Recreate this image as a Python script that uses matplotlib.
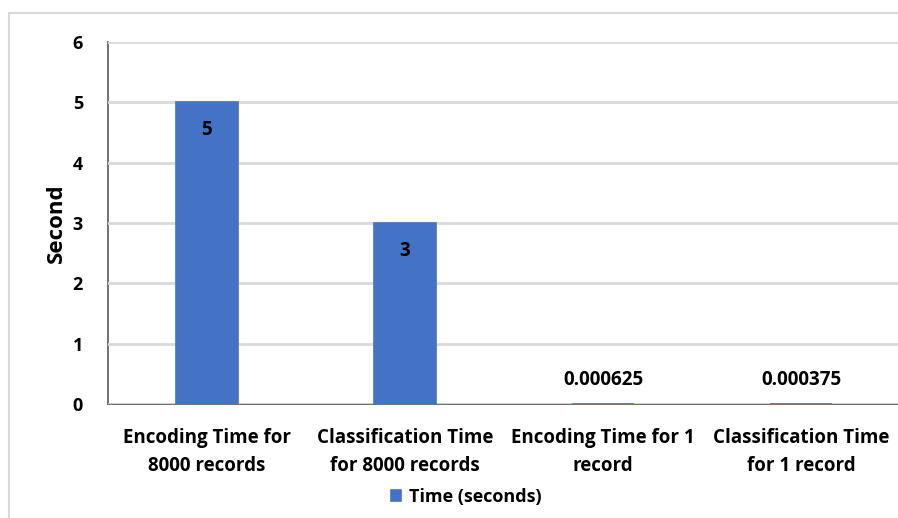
import numpy as np
import matplotlib.pyplot as plt
from matplotlib.lines import Line2D

categories = ["Encoding Time for\n8000 records", "Classification Time\nfor 8000 records",
              "Encoding Time for 1\nrecord", "Classification Time\nfor 1 record"]
times = [5, 3, 0.000625, 0.000375]
value_labels = ["5", "3", "0.000625", "0.000375"]
series_name = "Time (seconds)"

plt.rcParams['font.family'] = ['Open Sans', 'DejaVu Sans']
plt.rcParams['font.weight'] = 'bold'

W, H = 898, 518
fig = plt.figure(figsize=(W / 100, H / 100), dpi=100)
ax = fig.add_axes([108 / W, (H - 404) / H, (900 - 108) / W, (404 - 42) / H])

x = np.arange(len(categories))
bars = ax.bar(x, times, width=0.31, color='#4472c4', edgecolor='#4472c4', linewidth=1.2,
              zorder=3, label=series_name)

ax.set_xlim(-0.5, len(categories) - 0.5)
ax.set_ylim(0, 6)
ax.set_yticks(range(0, 7))
ax.yaxis.grid(True, color='#d9d9d9', linewidth=2, zorder=0)
ax.set_xticks(x)
ax.set_xticklabels(categories, fontsize=13.5, fontweight='bold', linespacing=1.55)
ax.tick_params(axis='x', length=0, pad=17)
ax.tick_params(axis='y', length=0, pad=18, labelsize=13)
for lab in ax.get_yticklabels():
    lab.set_fontweight('bold')

for s in ['top', 'right']:
    ax.spines[s].set_visible(False)
ax.spines['left'].set_color('#595959')
ax.spines['bottom'].set_color('#595959')
ax.spines['left'].set_linewidth(1.2)
ax.spines['bottom'].set_linewidth(1.2)
ax.set_axisbelow(False)

ax.set_ylabel("Second", fontsize=16, fontweight='bold', labelpad=4)

# value labels: inside the top for tall bars, above for tiny ones
for b, v, t in zip(bars, times, value_labels):
    cx = b.get_x() + b.get_width() / 2
    off = -28 if v > 0.5 else 24
    ax.annotate(t, (cx, v), xytext=(0, off), textcoords='offset pixels',
                ha='center', va='center', fontsize=13.5, fontweight='bold', color='black', zorder=4)

fig.legend(handles=[bars], labels=[series_name], loc='center', bbox_to_anchor=(466 / W, 1 - 497 / H),
           frameon=False, handlelength=0.6, handleheight=0.6, handletextpad=0.4,
           prop={'weight': 'bold', 'size': 13})

# outer chart frame
fig.add_artist(Line2D([9 / W, 1], [1 - 13 / H, 1 - 13 / H], color='#d9d9d9', linewidth=1.5))
fig.add_artist(Line2D([9 / W, 9 / W], [0, 1 - 13 / H], color='#d9d9d9', linewidth=1.5))

fig.savefig("out.png", dpi=100)
